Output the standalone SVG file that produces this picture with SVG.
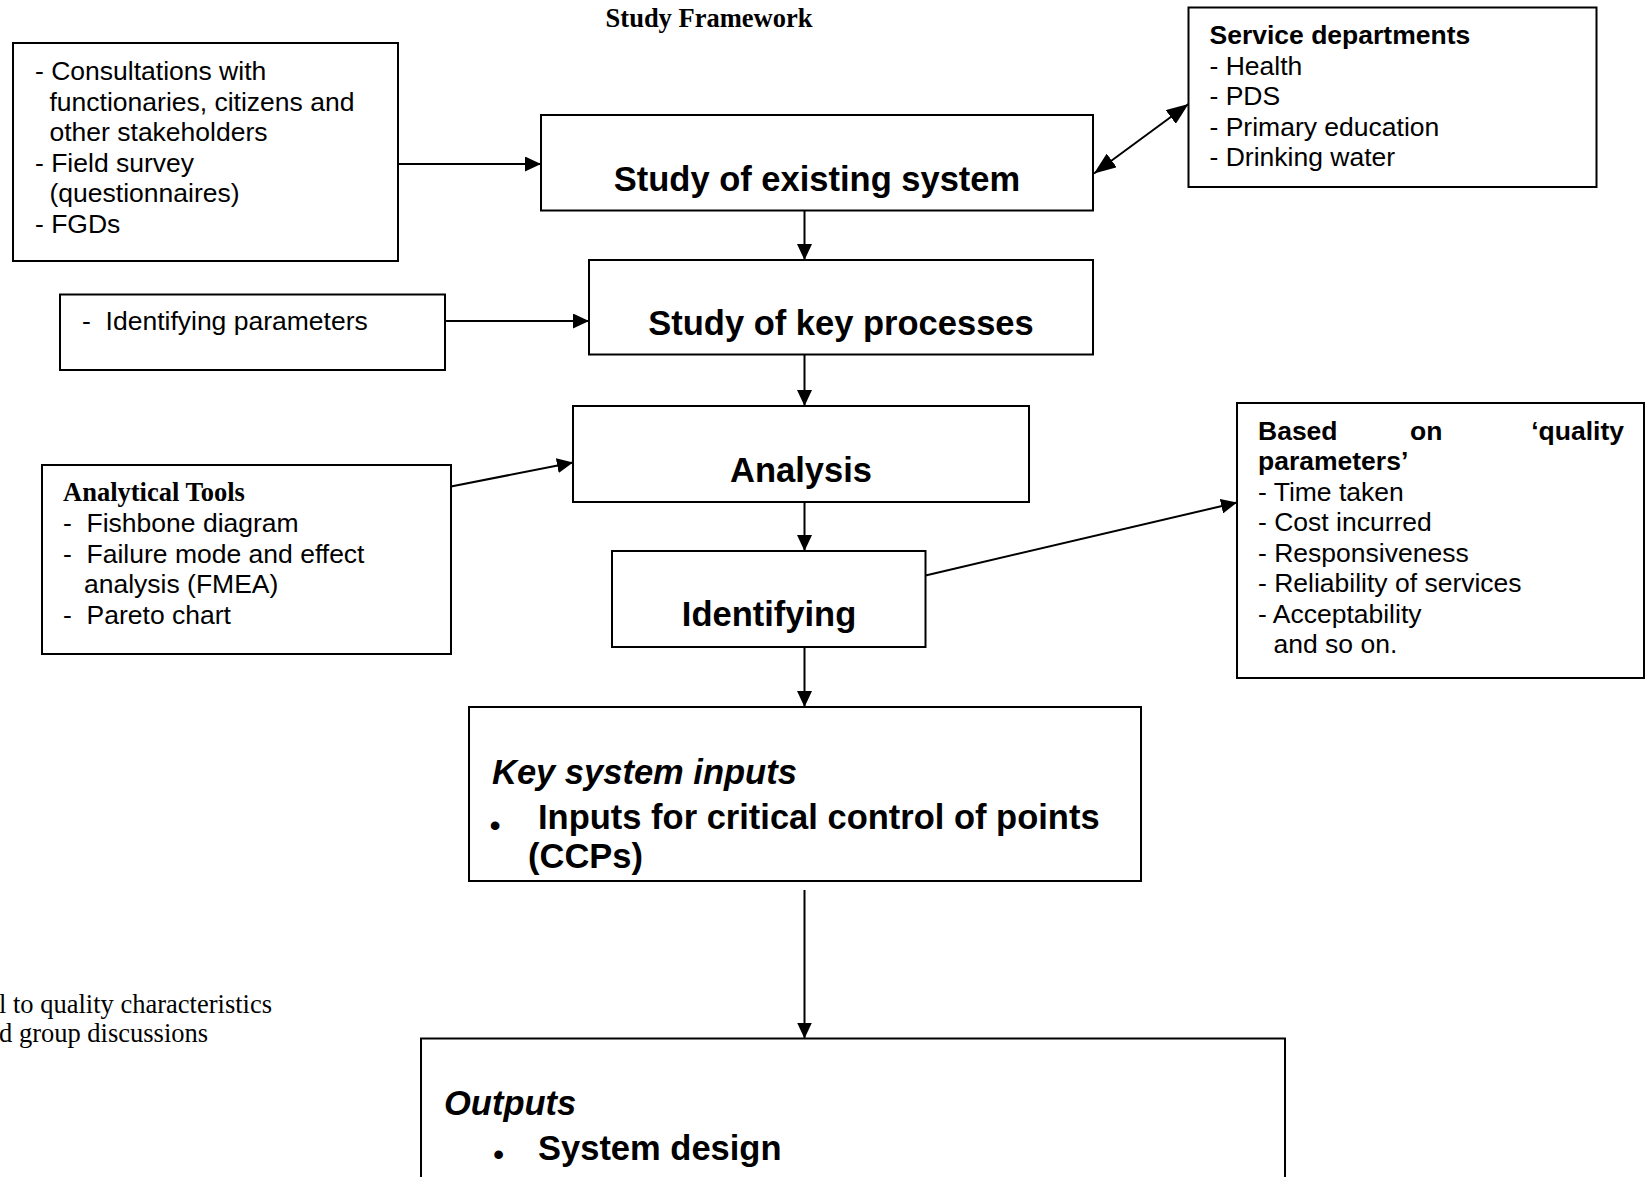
<svg xmlns="http://www.w3.org/2000/svg" width="1649" height="1177" viewBox="0 0 1649 1177">
  <style>
    .box { fill: #ffffff; stroke: #000000; stroke-width: 2; }
    .txt { font-family: "Liberation Sans", Arial, sans-serif; font-size: 26.5px; fill: #000000; }
    .big { font-family: "Liberation Sans", Arial, sans-serif; font-size: 34.5px; font-weight: bold; fill: #000000; }
    .bi { font-style: italic; }
    .serif { font-family: "Liberation Serif", "Times New Roman", serif; font-size: 26.5px; fill: #000000; }
    .b { font-weight: bold; }
    .conn { stroke: #000000; stroke-width: 2; fill: none; marker-end: url(#head); }
  </style>
  <defs>
    <marker id="head" markerUnits="userSpaceOnUse" markerWidth="16" markerHeight="15" viewBox="0 0 16 15" refX="16" refY="7.5" orient="auto">
      <path d="M0,0 L16,7.5 L0,15 z" fill="#000000"/>
    </marker>
    <marker id="head2" markerUnits="userSpaceOnUse" markerWidth="22" markerHeight="17" viewBox="0 0 22 17" refX="22" refY="8.5" orient="auto-start-reverse">
      <path d="M0,0 L22,8.5 L0,17 z" fill="#000000"/>
    </marker>
  </defs>

  <rect width="1649" height="1177" fill="#ffffff"/>

  <!-- heading -->
  <text class="serif b" x="709" y="26.5" text-anchor="middle">Study Framework</text>

  <!-- footnote fragment at lower left -->
  <text class="serif" x="-1" y="1013">l to quality characteristics</text>
  <text class="serif" x="-1" y="1042">d group discussions</text>

  <!-- connectors -->
  <g id="connectors">
    <line class="conn" x1="398" y1="164" x2="541" y2="164"/>
    <line class="conn" x1="804.5" y1="210.5" x2="804.5" y2="260"/>
    <line class="conn" x1="445" y1="321" x2="589" y2="321"/>
    <line class="conn" x1="804.5" y1="354.5" x2="804.5" y2="406"/>
    <line class="conn" x1="451" y1="486.5" x2="573" y2="462.5"/>
    <line class="conn" x1="804.5" y1="502" x2="804.5" y2="551"/>
    <line class="conn" x1="925.5" y1="575.5" x2="1237" y2="502.5"/>
    <line class="conn" x1="804.5" y1="647" x2="804.5" y2="707"/>
    <line class="conn" x1="804.5" y1="890" x2="804.5" y2="1038.5"/>
    <line x1="1094" y1="173.5" x2="1188.5" y2="104" stroke="#000000" stroke-width="2" marker-start="url(#head2)" marker-end="url(#head2)"/>
  </g>

  <!-- input methods -->
  <g id="node-methods">
    <rect class="box" x="13" y="43" width="385" height="218"/>
    <text class="txt">
      <tspan x="35" y="80">- Consultations with</tspan>
      <tspan x="49.5" y="110.5">functionaries, citizens and</tspan>
      <tspan x="49.5" y="141">other stakeholders</tspan>
      <tspan x="35" y="171.5">- Field survey</tspan>
      <tspan x="49.5" y="202">(questionnaires)</tspan>
      <tspan x="35" y="232.5">- FGDs</tspan>
    </text>
  </g>

  <g id="node-existing-system">
    <rect class="box" x="541" y="115" width="552" height="95.5"/>
    <text class="big" x="817" y="191" text-anchor="middle">Study of existing system</text>
  </g>

  <g id="node-service-departments">
    <rect class="box" x="1188.5" y="7.5" width="408" height="179.5"/>
    <text class="txt">
      <tspan class="b" x="1209.5" y="44">Service departments</tspan>
      <tspan x="1209.5" y="74.5">- Health</tspan>
      <tspan x="1209.5" y="105">- PDS</tspan>
      <tspan x="1209.5" y="135.5">- Primary education</tspan>
      <tspan x="1209.5" y="166">- Drinking water</tspan>
    </text>
  </g>

  <g id="node-key-processes">
    <rect class="box" x="589" y="260" width="504" height="94.5"/>
    <text class="big" x="841" y="335" text-anchor="middle">Study of key processes</text>
  </g>

  <g id="node-parameters">
    <rect class="box" x="60" y="294.5" width="385" height="75.5"/>
    <text class="txt" x="82" y="330" xml:space="preserve">-  Identifying parameters</text>
  </g>

  <g id="node-analysis">
    <rect class="box" x="573" y="406" width="456" height="96"/>
    <text class="big" x="801" y="482" text-anchor="middle">Analysis</text>
  </g>

  <g id="node-tools">
    <rect class="box" x="42" y="465" width="409" height="189"/>
    <text class="serif b" x="63" y="501">Analytical Tools</text>
    <text class="txt" xml:space="preserve"><tspan x="63" y="532">-  Fishbone diagram</tspan><tspan x="63" y="562.5">-  Failure mode and effect</tspan><tspan x="84" y="593">analysis (FMEA)</tspan><tspan x="63" y="623.5">-  Pareto chart</tspan></text>
  </g>

  <g id="node-identifying">
    <rect class="box" x="612" y="551" width="313.5" height="96"/>
    <text class="big" x="769" y="626" text-anchor="middle">Identifying</text>
  </g>

  <g id="node-quality">
    <rect class="box" x="1237" y="403" width="407" height="275"/>
    <text class="txt b" x="1258" y="439.5">Based</text>
    <text class="txt b" x="1410" y="439.5">on</text>
    <text class="txt b" x="1624" y="439.5" text-anchor="end">‘quality</text>
    <text class="txt">
      <tspan class="b" x="1258" y="470">parameters’</tspan>
      <tspan x="1258" y="500.5">- Time taken</tspan>
      <tspan x="1258" y="531">- Cost incurred</tspan>
      <tspan x="1258" y="561.5">- Responsiveness</tspan>
      <tspan x="1258" y="592">- Reliability of services</tspan>
      <tspan x="1258" y="622.5">- Acceptability</tspan>
      <tspan x="1273.5" y="653">and so on.</tspan>
    </text>
  </g>

  <g id="node-key-inputs">
    <rect class="box" x="469" y="707" width="672" height="174"/>
    <text class="big bi" x="492" y="783.5">Key system inputs</text>
    <text class="txt" x="495" y="836" text-anchor="middle" style="font-size:32px">•</text>
    <text class="big" x="538" y="829">Inputs for critical control of points</text>
    <text class="big" x="528" y="868">(CCPs)</text>
  </g>

  <g id="node-outputs">
    <rect class="box" x="421" y="1038.5" width="864" height="200"/>
    <text class="big bi" x="444" y="1115">Outputs</text>
    <text class="txt" x="498.5" y="1165" text-anchor="middle" style="font-size:32px">•</text>
    <text class="big" x="538" y="1160">System design</text>
  </g>
</svg>
